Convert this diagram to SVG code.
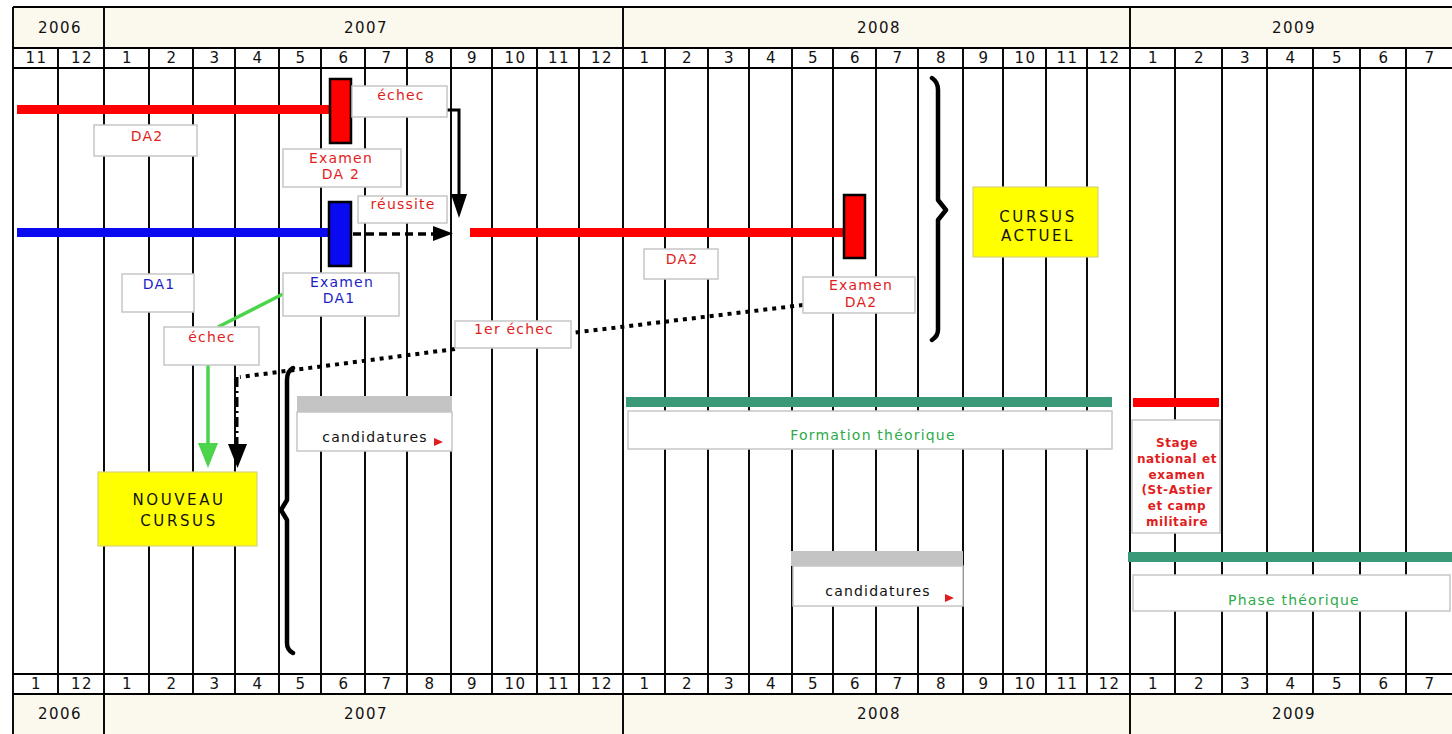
<svg xmlns="http://www.w3.org/2000/svg" width="1452" height="734" viewBox="0 0 1452 734">
<style>
.hdr{fill:#FBF8EE}
.g{stroke:#000;stroke-width:1.9;fill:none}
.box{fill:#fff;stroke:#C6C6C6;stroke-width:1.5}
.ybox{fill:#FFFF00;stroke:#D8D27A;stroke-width:1.2}
.t{font-family:"DejaVu Sans",Verdana,sans-serif;font-size:14px;text-anchor:middle;letter-spacing:1.2px}
.h{fill:#111;font-size:15px;letter-spacing:1.4px}
.red{fill:#E01E1E}
.blue{fill:#1E1EC8}
.grn{fill:#2DAA4A}
.blk{fill:#111}
.big{font-size:15px;letter-spacing:2.6px}
.st{font-family:"DejaVu Sans",Verdana,sans-serif;font-size:12px;font-weight:bold;text-anchor:middle;fill:#E01E1E;letter-spacing:0.6px}
.c{fill:none;stroke:#000;stroke-width:3}
.dot{fill:none;stroke:#000;stroke-width:4;stroke-dasharray:4 5}
.dsh{fill:none;stroke:#000;stroke-width:3.5;stroke-dasharray:8 5}
.brace{fill:none;stroke:#000;stroke-width:4.5;stroke-linejoin:round;stroke-linecap:round}
</style>
<rect width="1452" height="734" fill="#fff"/>
<g id="header">
<rect class="hdr" x="13" y="7" width="1439" height="41"/>
<rect class="hdr" x="13" y="694" width="1439" height="40"/>
<path class="g" d="M13,7H1452M13,48H1452M13,68H1452M13,674H1452M13,694H1452M13,7V734"/>
<path class="g" d="M104,7V734M623,7V734M1130,7V734"/>
<path class="g" d="M58,48V694M149,48V694M193,48V694M235,48V694M279,48V694M321,48V694M365,48V694M407,48V694M451,48V694M492,48V694M537,48V694M579,48V694M665,48V694M708,48V694M749,48V694M792,48V694M833,48V694M876,48V694M918,48V694M963,48V694M1003,48V694M1046,48V694M1087,48V694M1175,48V694M1222,48V694M1267,48V694M1313,48V694M1360,48V694M1406,48V694"/>
<g class="t h">
<text x="60" y="33">2006</text><text x="366" y="33">2007</text><text x="879" y="33">2008</text><text x="1294" y="33">2009</text>
<text x="60" y="719">2006</text><text x="366" y="719">2007</text><text x="879" y="719">2008</text><text x="1294" y="719">2009</text>
</g>
<g class="t h">
<text x="36.5" y="63">11</text><text x="82" y="63">12</text><text x="127.5" y="63">1</text><text x="172" y="63">2</text><text x="215" y="63">3</text><text x="258" y="63">4</text><text x="301" y="63">5</text><text x="344" y="63">6</text><text x="387" y="63">7</text><text x="430" y="63">8</text><text x="472.5" y="63">9</text><text x="515.5" y="63">10</text><text x="559" y="63">11</text><text x="602" y="63">12</text><text x="645" y="63">1</text><text x="687.5" y="63">2</text><text x="729.5" y="63">3</text><text x="771.5" y="63">4</text><text x="813.5" y="63">5</text><text x="855.5" y="63">6</text><text x="898" y="63">7</text><text x="941.5" y="63">8</text><text x="984" y="63">9</text><text x="1025.5" y="63">10</text><text x="1067.5" y="63">11</text><text x="1109.5" y="63">12</text><text x="1153.5" y="63">1</text><text x="1199.5" y="63">2</text><text x="1245.5" y="63">3</text><text x="1291" y="63">4</text><text x="1337.5" y="63">5</text><text x="1384" y="63">6</text><text x="1430" y="63">7</text>
<text x="36.5" y="689">1</text><text x="82" y="689">12</text><text x="127.5" y="689">1</text><text x="172" y="689">2</text><text x="215" y="689">3</text><text x="258" y="689">4</text><text x="301" y="689">5</text><text x="344" y="689">6</text><text x="387" y="689">7</text><text x="430" y="689">8</text><text x="472.5" y="689">9</text><text x="515.5" y="689">10</text><text x="559" y="689">11</text><text x="602" y="689">12</text><text x="645" y="689">1</text><text x="687.5" y="689">2</text><text x="729.5" y="689">3</text><text x="771.5" y="689">4</text><text x="813.5" y="689">5</text><text x="855.5" y="689">6</text><text x="898" y="689">7</text><text x="941.5" y="689">8</text><text x="984" y="689">9</text><text x="1025.5" y="689">10</text><text x="1067.5" y="689">11</text><text x="1109.5" y="689">12</text><text x="1153.5" y="689">1</text><text x="1199.5" y="689">2</text><text x="1245.5" y="689">3</text><text x="1291" y="689">4</text><text x="1337.5" y="689">5</text><text x="1384" y="689">6</text><text x="1430" y="689">7</text>
</g>
</g>
<g id="connectors">
<path class="c" d="M447,110H459V196"/>
<polygon points="451,194 467,194 459,218" fill="#000"/>
<path class="dsh" d="M353,234H436"/>
<polygon points="433,226 453,233.5 433,241" fill="#000"/>
<path class="dot" d="M803,305L571,333M455,349L240,377"/>
<path fill="none" stroke="#000" stroke-width="3" stroke-dasharray="10 4 2 4" d="M237,377V446"/>
<polygon points="228,444 247,444 237.5,468" fill="#000"/>
<path fill="none" stroke="#4CD44C" stroke-width="3.5" d="M283,294L218,327"/>
<path fill="none" stroke="#4CD44C" stroke-width="3.5" d="M208,365V446"/>
<polygon points="198,443 218,443 208,468" fill="#4CD44C"/>
</g>
<g id="bar-da2-2007">
<rect x="17" y="105" width="314" height="9" fill="#FF0000"/>
<rect x="330" y="79" width="21" height="64" fill="#FF0000" stroke="#000" stroke-width="2.5"/>
</g>
<g id="bar-da1-2007">
<rect x="17" y="228" width="312" height="9" fill="#0A0AF0"/>
<rect x="329" y="202" width="22" height="64" fill="#0A0AF0" stroke="#000" stroke-width="2.5"/>
</g>
<g id="bar-da2-2008">
<rect x="470" y="228" width="375" height="9" fill="#FF0000"/>
<rect x="844" y="195" width="21" height="63" fill="#FF0000" stroke="#000" stroke-width="2.5"/>
</g>
<g id="lbl-echec-top"><rect class="box" x="352" y="86" width="95" height="31"/><text class="t red" x="401" y="100">échec</text></g>
<g id="lbl-da2-a"><rect class="box" x="94" y="125" width="103" height="31"/><text class="t red" x="147" y="141">DA2</text></g>
<g id="lbl-examen-da2-a"><rect class="box" x="283" y="149" width="118" height="38"/><text class="t red" x="341" y="163">Examen</text><text class="t red" x="341" y="179">DA 2</text></g>
<g id="lbl-reussite"><rect class="box" x="358" y="196" width="89" height="27"/><text class="t red" x="403" y="209">réussite</text></g>
<g id="lbl-da1"><rect class="box" x="122" y="274" width="72" height="38"/><text class="t blue" x="159" y="289">DA1</text></g>
<g id="lbl-examen-da1"><rect class="box" x="283" y="273" width="116" height="43"/><text class="t blue" x="342" y="287">Examen</text><text class="t blue" x="339" y="303">DA1</text></g>
<g id="lbl-echec-bottom"><rect class="box" x="164" y="327" width="95" height="38"/><text class="t red" x="212" y="342">échec</text></g>
<g id="lbl-da2-b"><rect class="box" x="644" y="249" width="74" height="30"/><text class="t red" x="682" y="264">DA2</text></g>
<g id="lbl-examen-da2-b"><rect class="box" x="803" y="277" width="112" height="36"/><text class="t red" x="861" y="290">Examen</text><text class="t red" x="861" y="307">DA2</text></g>
<g id="lbl-1er-echec"><rect class="box" x="455" y="321" width="116" height="27"/><text class="t red" x="514" y="334">1er échec</text></g>
<g id="nouveau-cursus"><rect class="ybox" x="98" y="472" width="159" height="74"/><text class="t blk big" x="179" y="505">NOUVEAU</text><text class="t blk big" x="179" y="526">CURSUS</text></g>
<g id="cursus-actuel"><rect class="ybox" x="973" y="187" width="125" height="70"/><text class="t blk big" x="1038" y="222">CURSUS</text><text class="t blk big" x="1038" y="241">ACTUEL</text></g>
<g id="brace-left"><path class="brace" d="M293,368Q287,371 287,380V500L281,510L287,520V643Q287,650 293,653"/></g>
<g id="brace-right"><path class="brace" d="M932,78Q938,82 938,90V200L946,210L938,220V330Q938,336 932,340"/></g>
<g id="candidatures-1">
<rect x="297" y="396" width="155" height="16" fill="#C4C4C4"/>
<rect class="box" x="297" y="412" width="155" height="39"/>
<text class="t blk" x="375" y="442">candidatures</text>
<polygon points="434,438 443,442 434,446" fill="#E01E1E"/>
</g>
<g id="formation-theorique">
<rect x="626" y="397" width="486" height="10" fill="#3A9A78"/>
<rect class="box" x="628" y="411" width="484" height="38"/>
<text class="t grn" x="873" y="440">Formation théorique</text>
</g>
<g id="candidatures-2">
<rect x="791" y="551" width="172" height="15" fill="#C4C4C4"/>
<rect class="box" x="793" y="566" width="170" height="40"/>
<text class="t blk" x="878" y="596">candidatures</text>
<polygon points="945,594 954,598 945,602" fill="#E01E1E"/>
</g>
<g id="stage-national">
<rect x="1133" y="398" width="86" height="9" fill="#FF0000"/>
<rect class="box" x="1132" y="420" width="88" height="113"/>
<text class="st" x="1177" y="447">Stage</text>
<text class="st" x="1177" y="463">national  et</text>
<text class="st" x="1177" y="479">examen</text>
<text class="st" x="1177" y="494">(St-Astier</text>
<text class="st" x="1177" y="510">et camp</text>
<text class="st" x="1177" y="526">militaire</text>
</g>
<g id="phase-theorique">
<rect x="1128" y="552" width="324" height="10" fill="#3A9A78"/>
<rect class="box" x="1133" y="575" width="317" height="36"/>
<text class="t grn" x="1294" y="605">Phase théorique</text>
</g>
</svg>
